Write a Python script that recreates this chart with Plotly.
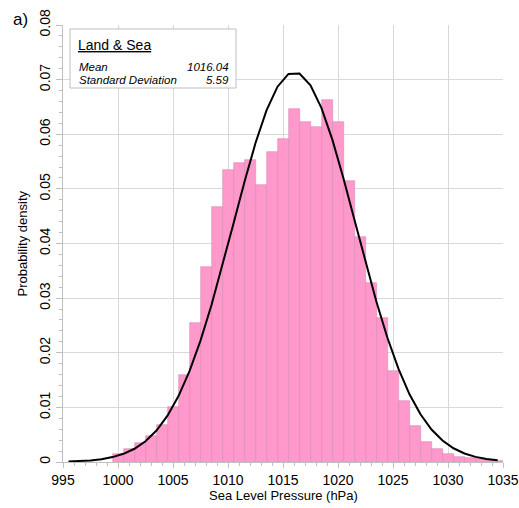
import plotly.graph_objects as go

# Histogram bins (centres, hPa) and probability densities
bin_centers = [1000, 1001, 1002, 1003, 1004, 1005, 1006, 1007, 1008, 1009,
               1010, 1011, 1012, 1013, 1014, 1015, 1016, 1017, 1018, 1019,
               1020, 1021, 1022, 1023, 1024, 1025, 1026, 1027, 1028, 1029,
               1030, 1031, 1032, 1033, 1034, 1035]
density = [0.0015, 0.0024, 0.0034, 0.0048, 0.0068, 0.0101, 0.0160, 0.0254, 0.0357, 0.0466,
           0.0535, 0.0548, 0.0552, 0.0508, 0.0567, 0.0592, 0.0647, 0.0623, 0.0614, 0.0663,
           0.0623, 0.0514, 0.0411, 0.0328, 0.0263, 0.0166, 0.0112, 0.0066, 0.0036, 0.0024,
           0.0015, 0.0010, 0.0007, 0.0005, 0.0003, 0.0001]

# Fitted normal curve points as drawn (x at bin edges)
curve_x = [995.5, 996.5, 997.5, 998.5, 999.5, 1000.5, 1001.5, 1002.5, 1003.5, 1004.5,
           1005.5, 1006.5, 1007.5, 1008.5, 1009.5, 1010.5, 1011.5, 1012.5, 1013.5, 1014.5,
           1015.5, 1016.5, 1017.5, 1018.5, 1019.5, 1020.5, 1021.5, 1022.5, 1023.5, 1024.5,
           1025.5, 1026.5, 1027.5, 1028.5, 1029.5, 1030.5, 1031.5, 1032.5, 1033.5, 1034.5]
curve_y = [0.0000835, 0.0001586, 0.0002917, 0.0005195, 0.0008963, 0.0014974, 0.0024233, 0.0037975,
           0.005764, 0.008473, 0.012064, 0.016635, 0.022216, 0.028735, 0.035997, 0.043673,
           0.051318, 0.058401, 0.064367, 0.068709, 0.071035, 0.071126, 0.068974, 0.064781,
           0.058926, 0.051912, 0.044293, 0.036602, 0.029293, 0.022706, 0.017045, 0.012393,
           0.008727, 0.005952, 0.003931, 0.002515, 0.001558, 0.000935, 0.000543, 0.000306]

x_ticks = [995, 1000, 1005, 1010, 1015, 1020, 1025, 1030, 1035]
y_ticks = [0, 0.01, 0.02, 0.03, 0.04, 0.05, 0.06, 0.07, 0.08]
y_tick_labels = ["0", "0.01", "0.02", "0.03", "0.04", "0.05", "0.06", "0.07", "0.08"]

legend_title = "Land & Sea"
stat_names = ["Mean", "Standard Deviation"]
stat_values = ["1016.04", "5.59"]

FONT = "Liberation Sans, Arial, sans-serif"
W, H = 519, 508
ML, MR, MT, MB = 63, 16, 25, 46
PW, PH = W - ML - MR, H - MT - MB

def px(x):
    return (x - ML) / PW

def py(y):
    return 1 - (y - MT) / PH

fig = go.Figure()
fig.add_trace(go.Bar(
    x=bin_centers, y=density, width=1,
    marker=dict(color="#FF99CC", line=dict(color="#D98AB4", width=0.6)),
    showlegend=False, hoverinfo="skip",
))
fig.add_trace(go.Scatter(
    x=curve_x, y=curve_y, mode="lines",
    line=dict(color="black", width=2),
    showlegend=False, hoverinfo="skip",
))

grid = "#D9D9D9"
fig.update_layout(
    width=W, height=H,
    margin=dict(l=ML, r=MR, t=MT, b=MB, autoexpand=False),
    paper_bgcolor="white", plot_bgcolor="white",
    font=dict(family=FONT, size=14, color="black"),
    bargap=0,
    xaxis=dict(
        range=[995, 1035], tickvals=x_ticks, ticktext=[str(v) for v in x_ticks],
        showgrid=True, gridcolor=grid, gridwidth=1, automargin=False,
        showline=True, linecolor="#BFBFBF", linewidth=1,
        ticks="outside", ticklen=5, tickcolor="#BFBFBF",
        minor=dict(dtick=1, ticks="outside", ticklen=3, tickcolor="#BFBFBF", showgrid=False),
        tickfont=dict(size=14), zeroline=False,
    ),
    yaxis=dict(
        range=[0, 0.08], tickvals=y_ticks, ticktext=y_tick_labels, tickangle=-90,
        showgrid=True, gridcolor=grid, gridwidth=1, automargin=False,
        showline=True, linecolor="#BFBFBF", linewidth=1,
        ticks="outside", ticklen=6, tickcolor="#BFBFBF",
        minor=dict(dtick=0.002, ticks="outside", ticklen=3, tickcolor="#BFBFBF", showgrid=False),
        tickfont=dict(size=14), zeroline=False,
    ),
)

# Stats box
fig.add_shape(type="rect", xref="paper", yref="paper",
              x0=px(70), x1=px(236), y0=py(88), y1=py(29),
              line=dict(color="#BFBFBF", width=1), fillcolor="white", layer="above")

ann = []
ann.append(dict(text="<u>" + legend_title.replace("&", "&amp;") + "</u>", x=px(77), y=py(45),
                xanchor="left", yanchor="middle", font=dict(size=14)))
for i, (n, v) in enumerate(zip(stat_names, stat_values)):
    yy = py(67.5 + 12.8 * i)
    ann.append(dict(text="<i>" + n + "</i>", x=px(78), y=yy, xanchor="left", yanchor="middle",
                    font=dict(size=11.5)))
    ann.append(dict(text="<i>" + v + "</i>", x=px(230), y=yy, xanchor="right", yanchor="middle",
                    font=dict(size=11.5)))
ann.append(dict(text="a)", x=px(12), y=py(20), xanchor="left", yanchor="middle",
                font=dict(size=17)))
ann.append(dict(text="Probability density", x=px(22), y=0.5, textangle=-90,
                xanchor="center", yanchor="middle", font=dict(size=13)))
ann.append(dict(text="Sea Level Pressure (hPa)", x=0.5, y=py(495),
                xanchor="center", yanchor="middle", font=dict(size=13)))
for a in ann:
    a.update(xref="paper", yref="paper", showarrow=False, borderpad=0)
    fig.add_annotation(**a)

fig.write_html("out.html")
